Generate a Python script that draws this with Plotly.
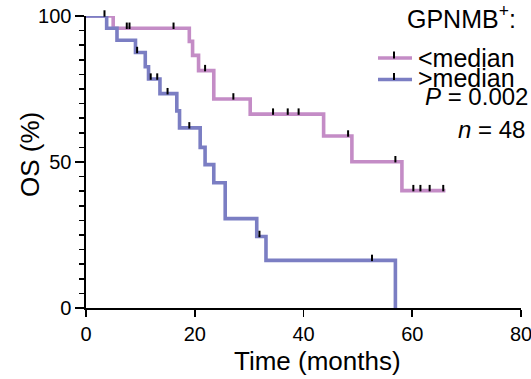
import plotly.graph_objects as go

# ---- data ----
low_t = [0, 5.0, 19.0, 19.6, 20.7, 23.5, 30.2, 43.7, 48.9, 58.1, 66.1]
low_s = [100, 95.8, 91.3, 86.5, 81.3, 71.6, 66.4, 58.9, 50.1, 40.2, 40.2]
low_cens_t = [3.4, 7.5, 8.0, 16.1, 21.9, 27.1, 34.4, 37.1, 39.1, 48.2, 56.9, 60.2, 61.5, 63.2, 65.7]
low_cens_s = [100, 95.8, 95.8, 95.8, 81.3, 71.6, 66.4, 66.4, 66.4, 58.9, 50.1, 40.2, 40.2, 40.2, 40.2]

high_t = [0, 3.8, 5.7, 9.1, 10.9, 11.5, 13.6, 16.7, 17.2, 21.0, 21.9, 23.5, 25.6, 31.4, 33.1, 56.9]
high_s = [100, 95.8, 91.7, 87.5, 82.6, 78.4, 73.4, 67.5, 61.7, 55.0, 49.1, 42.9, 30.6, 24.5, 16.3, 0]
high_cens_t = [9.4, 11.9, 13.1, 15.0, 19.0, 31.9, 52.6]
high_cens_s = [87.5, 78.4, 78.4, 73.4, 61.7, 24.5, 16.3]

x_ticks = [0, 20, 40, 60, 80]
y_ticks = [0, 50, 100]

legend_title = "GPNMB<sup>+</sup>:"
series_names = ["&lt;median", "&gt;median"]
p_text = "<i>P</i> = 0.002"
n_text = "<i>n</i> = 48"

PINK = "#C48CC6"
BLUE = "#7B7EC3"
FONT = "Liberation Sans, Arial, Helvetica, sans-serif"

W, H = 531, 379
ML, MR, MT, MB = 86, 10, 16, 71
PW, PH = W - ML - MR, H - MT - MB


def px(xp):
    return (xp - ML) / PW


def py(yp):
    return (H - MB - yp) / PH


fig = go.Figure()
for t, s, color in [(low_t, low_s, PINK), (high_t, high_s, BLUE)]:
    fig.add_trace(go.Scatter(x=t, y=s, mode="lines", line=dict(color=color, width=3.6, shape="hv"),
                             cliponaxis=False, showlegend=False, hoverinfo="skip"))
for t, s in [(low_cens_t, low_cens_s), (high_cens_t, high_cens_s)]:
    fig.add_trace(go.Scatter(x=t, y=s, mode="markers", cliponaxis=False, showlegend=False,
                             marker=dict(symbol="line-ns", size=4.6, angle=180, standoff=2.5,
                                         line=dict(color="black", width=2)),
                             hoverinfo="skip"))

shapes = []
for yp, color in [(58, PINK), (79.5, BLUE)]:
    shapes.append(dict(type="line", xref="paper", yref="paper", x0=px(378), x1=px(412),
                       y0=py(yp), y1=py(yp), line=dict(color=color, width=3.6)))
    shapes.append(dict(type="line", xref="paper", yref="paper", x0=px(394), x1=px(394),
                       y0=py(yp - 6.5), y1=py(yp + 0.5), line=dict(color="black", width=2)))

annotations = [
    dict(text="Time (months)", x=px(317), y=py(361), xref="paper", yref="paper",
         xanchor="center", yanchor="middle", showarrow=False, font=dict(size=26)),
    dict(text="OS (%)", x=px(30), y=py(155), xref="paper", yref="paper", textangle=-90,
         xanchor="center", yanchor="middle", showarrow=False, font=dict(size=26)),
    dict(text=legend_title, x=px(405), y=py(17), xref="paper", yref="paper",
         xanchor="left", yanchor="middle", showarrow=False, font=dict(size=25)),
    dict(text=series_names[0], x=px(416), y=py(58), xref="paper", yref="paper",
         xanchor="left", yanchor="middle", showarrow=False, font=dict(size=25)),
    dict(text=series_names[1], x=px(416), y=py(78), xref="paper", yref="paper",
         xanchor="left", yanchor="middle", showarrow=False, font=dict(size=25)),
    dict(text=p_text, x=px(423), y=py(96), xref="paper", yref="paper",
         xanchor="left", yanchor="middle", showarrow=False, font=dict(size=24)),
    dict(text=n_text, x=px(456), y=py(129), xref="paper", yref="paper",
         xanchor="left", yanchor="middle", showarrow=False, font=dict(size=24)),
]

fig.update_layout(
    width=W, height=H, margin=dict(l=ML, r=MR, t=MT, b=MB, pad=0, autoexpand=False),
    paper_bgcolor="white", plot_bgcolor="white",
    font=dict(family=FONT, color="black", size=20),
    shapes=shapes, annotations=annotations, showlegend=False,
    xaxis=dict(range=[0, 80], tickvals=x_ticks, ticks="outside", ticklen=7, tickwidth=1.6,
               tickcolor="black", showline=True, linecolor="black", linewidth=1.6,
               showgrid=False, zeroline=False, tickfont=dict(size=20), fixedrange=True,
               ticklabeloverflow="allow", automargin=False),
    yaxis=dict(range=[0, 100], tickvals=y_ticks, ticks="outside", ticklen=9, tickwidth=1.6,
               tickcolor="black", showline=True, linecolor="black", linewidth=1.6,
               showgrid=False, zeroline=False, tickfont=dict(size=20), fixedrange=True,
               ticklabeloverflow="allow", automargin=False,
               minor=dict(dtick=5, tick0=0, ticks="outside", ticklen=5, tickwidth=1.6,
                          tickcolor="black", showgrid=False)),
)

fig.write_html("out.html", config={"staticPlot": True},
               post_script="document.body.style.margin='0px';document.body.style.overflow='hidden';")
